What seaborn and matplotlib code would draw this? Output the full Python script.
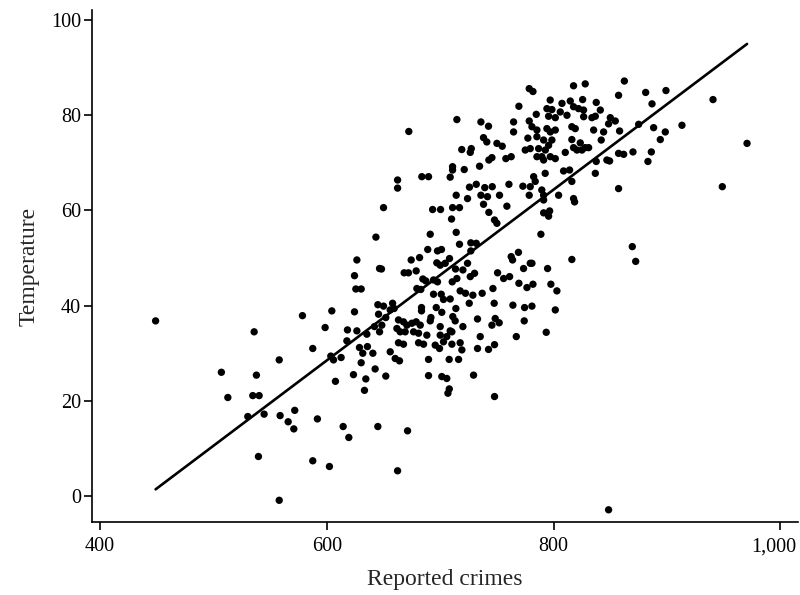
import matplotlib
matplotlib.use("Agg")
import matplotlib.pyplot as plt
from matplotlib.transforms import ScaledTranslation
import seaborn as sns
import numpy as np
import pandas as pd

points = [
(449,36.8),(507,26),(512.7,20.7),(530.3,16.7),(534.7,21.1),(540.3,21.1),(535.9,34.5),(537.9,25.4),
(539.7,8.3),(544.7,17.2),(558.8,16.9),(558,28.6),(558,-0.9),(565.9,15.6),(570.9,14.1),(571.7,18.0),
(578.5,37.9),(587.6,31.0),(587.6,7.4),(591.7,16.2),(598.5,35.4),(602.3,6.2),(603.5,29.4),(605.9,28.6),
(604.4,38.9),(607.6,24.1),(612.6,29.1),(614.4,14.6),(617.7,32.6),(618.2,34.9),(619.4,12.3),(623.5,25.5),
(624.4,38.7),(624.4,46.3),(625.6,43.5),(626.5,34.7),(626.5,49.6),(628.8,31.2),(630.3,43.5),(630.3,28.0),
(631.7,30.0),(633.2,22.2),(634.4,24.6),(635.3,34.0),(635.8,31.4),(640.6,30.0),(642,35.6),(642.6,26.7),
(643.3,54.4),(645,40.2),(645.6,38.2),(645,14.6),(646.5,34.5),(646.5,47.8),
(648.2,47.7),(648.5,35.9),(650,60.6),(650,39.9),(652,37.5),(652,25.2),(655.9,30.3),(655.9,39.1),
(658,40.5),(659.4,39.4),(660.3,28.9),(661.8,35.2),(662.4,66.4),(662.4,64.7),(662.4,5.3),(663.2,32.2),
(663.2,37.0),(664.1,28.4),(664.7,34.5),(667.6,31.9),(667.6,36.6),(668.2,46.9),(669.1,34.5),(670.6,35.9),
(671.2,13.7),(672,46.9),(672.3,76.6),(674.4,49.6),(675,36.3),(676.5,34.5),(678.8,47.3),(678.8,36.6),
(679.4,43.6),(680.9,32.2),(680.9,34.2),(681.8,50.1),(682.4,35.9),(682.9,43.4),(683.5,39.6),(683.5,38.9),
(683.8,67.1),(684.7,45.6),(685.3,31.9),(687.3,45.2),(688.2,33.8),(689,51.8),(689.7,67.1),(689.7,28.7),
(689.7,25.3),(691.2,55.0),(691.2,36.8),(691.8,37.5),(693.3,60.2),(694.1,45.4),(694.1,42.4),(695.6,31.7),
(696.5,39.6),(697,49.0),(697.6,51.5),(697.6,45.0),(699.4,31.0),(700,48.5),(700,35.6),(700,33.8),
(700.3,60.2),(700.9,42.4),(701.1,51.8),(701.4,38.6),(701.4,25.1),(702.9,41.3),(702.9,32.4),(704.4,48.9),
(705.8,24.7),(705.8,33.5),(706.8,21.6),(707.9,28.7),(708,22.5),(708.2,49.9),(708.8,67.0),(708.8,41.4),
(708.8,34.7),(710,58.2),(710.3,31.9),(710.3,34.5),(710.6,45.0),(710.9,60.6),(710.9,69.2),(710.9,68.5),
(711.1,37.7),(713.2,36.8),(713.5,47.7),(713.8,39.4),(714.1,55.4),(714.1,63.2),(714.7,79.1),(714.7,45.7),
(716.2,28.7),(717,60.6),(717,52.9),(717.6,43.1),(717.6,32.2),(719,72.8),(719.1,30.7),(720,47.5),
(720,35.6),(721.2,68.6),(722.3,42.6),(724.1,62.5),(724.1,48.9),(725.6,40.5),(725.8,64.9),(726.5,72.2),
(726.5,46.1),(727,53.2),(727,51.5),(727.4,73.0),(728.8,42.2),(729.4,25.4),(730.3,46.8),(731.8,65.5),
(731.8,53.1),(732.9,37.2),(732.9,31.0),(734.7,69.3),(735.3,33.5),(735.9,78.6),(735.9,63.2),(737,42.6),
(738.2,75.3),(738.2,61.3),(739.3,64.8),(741.1,74.4),(741.7,62.9),(742.6,77.7),(742.6,30.8),(742.9,70.6),
(742.9,59.6),(745.6,71.1),(745.6,35.9),(745.9,65.0),(746.5,43.6),(747.6,40.5),(747.9,58.0),(747.9,31.8),
(747.9,20.9),(748.5,37.3),(750,74.1),(750,57.3),(750.6,46.9),(752,36.4),(752.3,63.2),(754.7,73.5),
(755.9,45.7),(757.9,70.9),(758.8,60.9),(760.6,65.5),(761.2,46.1),(762.6,71.3),(762.6,50.3),(763.8,49.6),
(764.1,40.1),(764.7,78.6),(764.7,76.5),(767.1,33.5),(769,51.2),(769.4,81.9),(769.4,44.7),(772.9,65.1),
(773.5,47.8),(774.1,36.8),(774.4,39.6),(775,72.7),(776.5,43.8),(777.3,75.2),(778.5,85.6),(778.5,78.8),
(778.5,63.2),(779.4,48.9),(779.4,73.0),(779.4,65.0),(780.9,77.6),(780.9,48.9),(780.9,39.9),(781.8,85.0),
(781.8,44.5),(782.4,67.1),(783.8,66.1),(784.7,80.2),(785.3,76.9),(785.3,75.5),(785.3,71.3),(786.8,73.0),
(788.8,55.0),(789.6,71.3),(789.6,64.3),(791.2,74.8),(791.2,70.6),(791.2,63.2),(791.2,62.2),(791.2,59.5),
(792.6,67.8),(792.7,72.7),(793.5,34.4),(794.1,81.4),(794.1,77.2),(794.7,47.8),(795.6,79.8),(795.6,73.7),
(795.6,58.8),(796.5,59.9),(797,83.2),(797.1,76.5),(797.1,71.3),(797.6,44.5),(798.5,81.2),(798.5,74.8),
(801.5,79.5),(801.5,76.9),(801.5,70.9),(801.5,39.1),(802.9,43.1),(804.4,63.2),(805.9,80.7),(807.4,82.5),
(808.8,68.3),(810.3,72.2),(811.8,80.0),(814.1,68.5),(814.7,83.0),(816.1,77.6),(816.1,74.9),(816.1,66.1),
(816.1,49.7),(817.6,86.2),(817.6,81.8),(817.6,73.2),(817.6,62.5),(818.5,61.8),(819.1,77.2),(820.6,72.7),
(822,81.4),(823.5,74.2),(825,72.7),(825.6,83.3),(826.4,81.1),(826.5,79.7),(827.9,86.6),(827.9,73.2),
(830.9,73.2),(833.8,79.5),(835.3,76.9),(836.8,79.8),(836.8,67.8),(837.6,82.7),(837.6,70.3),(841.2,81.1),
(842,74.8),(844.1,76.5),(847,70.6),(848.5,78.2),(848.5,-2.9),(849.4,70.4),(850,79.5),(854.4,78.8),
(857.3,84.2),(857.3,72.0),(857.3,64.6),(858.2,76.7),(861.8,71.8),(862.4,87.2),(869.4,52.4),(870,72.3),
(872.4,49.3),(875,78.1),(881.2,84.8),(883.2,70.3),(886.2,72.3),(886.8,82.4),(888.2,77.4),(894.1,74.9),
(898.5,76.5),(899.1,85.2),(913.2,77.9),(940.6,83.3),(948.8,65.0),(970.6,74.1),
]

crimes = [p[0] for p in points]
temperature = [p[1] for p in points]
x_ticks = [400, 600, 800, 1000]
x_tick_labels = ["400", "600", "800", "1,000"]
y_ticks = [0, 20, 40, 60, 80, 100]

df = pd.DataFrame({"Reported crimes": crimes, "Temperature": temperature})

sns.set_theme(style="ticks")
plt.rcParams["font.family"] = ["Liberation Serif", "DejaVu Serif"]

fig = plt.figure(figsize=(8, 5.95), dpi=100)
ax = fig.add_axes([0.115, 0.1227, 0.883, 0.8603])

sns.regplot(data=df, x="Reported crimes", y="Temperature", ci=None, ax=ax,
            scatter_kws=dict(s=28, color="black", edgecolor="none", alpha=1),
            line_kws=dict(color="black", lw=1.9))

ax.set_xlim(392.9, 1015.9)
ax.set_ylim(-5.46, 102.1)
ax.set_xticks(x_ticks)
ax.set_xticklabels(x_tick_labels)
ax.set_yticks(y_ticks)
ax.tick_params(axis="both", direction="out", length=6, width=1.2, labelsize=14.5, colors="black")
ax.tick_params(axis="y", pad=2)
ax.tick_params(axis="x", pad=5)
# keep the last x tick label inside the canvas
last = ax.get_xticklabels()[-1]
last.set_transform(last.get_transform() + ScaledTranslation(-5 / 72, 0, fig.dpi_scale_trans))
ax.set_xlabel("Reported crimes", fontsize=17, labelpad=9)
ax.set_ylabel("Temperature", fontsize=17, labelpad=8)
for s in ["top", "right"]:
    ax.spines[s].set_visible(False)
for s in ["left", "bottom"]:
    ax.spines[s].set_linewidth(1.2)
    ax.spines[s].set_color("black")

fig.savefig("out.png", dpi=100)
